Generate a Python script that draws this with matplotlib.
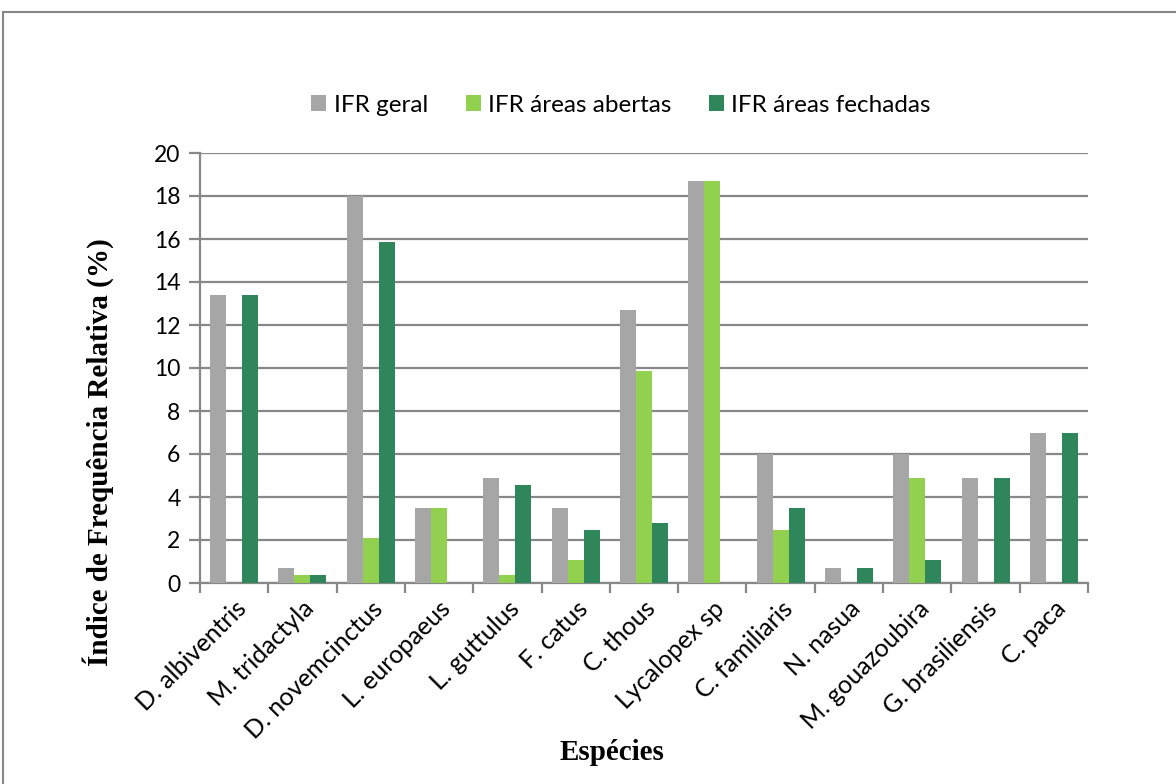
import matplotlib
matplotlib.use("Agg")
import matplotlib.pyplot as plt
from matplotlib.patches import Rectangle
import numpy as np

species = ["D. albiventris", "M. tridactyla", "D. novemcinctus", "L. europaeus",
           "L. guttulus", "F. catus", "C. thous", "Lycalopex sp", "C. familiaris",
           "N. nasua", "M. gouazoubira", "G. brasiliensis", "C. paca"]
ifr_geral = [13.4, 0.7, 18.0, 3.5, 4.9, 3.5, 12.7, 18.7, 6.0, 0.7, 6.0, 4.9, 7.0]
ifr_abertas = [0, 0.35, 2.1, 3.5, 0.35, 1.05, 9.85, 18.7, 2.45, 0, 4.9, 0, 0]
ifr_fechadas = [13.4, 0.35, 15.85, 0, 4.55, 2.45, 2.8, 0, 3.5, 0.7, 1.05, 4.9, 7.0]
series_names = ["IFR geral", "IFR áreas abertas", "IFR áreas fechadas"]
colors = ["#A6A6A6", "#92D050", "#2E865A"]
yticks = list(range(0, 21, 2))

W, H = 1176, 784
fig = plt.figure(figsize=(W / 100, H / 100), dpi=100)
ax = fig.add_axes([200 / W, 1 - 583 / H, 888 / W, 430 / H])

x = np.arange(len(species))
bw = 0.234
for i, (vals, c, name) in enumerate(zip([ifr_geral, ifr_abertas, ifr_fechadas], colors, series_names)):
    ax.bar(x + (i - 1) * bw, vals, width=bw, color=c, label=name, zorder=3)

ax.set_xlim(-0.5, len(species) - 0.5)
ax.set_ylim(0, 20)
ax.set_yticks(yticks)
ax.set_yticklabels([str(t) for t in yticks], fontsize=16.5, family="Lato")
ax.yaxis.grid(True, color="#888888", linewidth=1.6, zorder=0)
ax.tick_params(axis="y", length=8, width=1.6, color="#888888", pad=6)

ax.set_xticks(np.arange(-0.5, len(species), 1.0), minor=False)
ax.set_xticklabels([])
ax.set_xticks(x, minor=True)
ax.set_xticklabels(species, minor=True, rotation=45, ha="right", rotation_mode="anchor",
                   fontsize=18, family="Lato")
ax.tick_params(axis="x", which="major", length=7, width=1.6, color="#888888")
ax.tick_params(axis="x", which="minor", length=0, pad=10)

for s in ["top", "right"]:
    ax.spines[s].set_visible(False)
for s in ["left", "bottom"]:
    ax.spines[s].set_color("#888888")
    ax.spines[s].set_linewidth(1.6)

ax.set_ylabel("Índice de Frequência Relativa (%)", fontsize=21, fontweight="bold",
              family="Liberation Serif", va="center")
ax.yaxis.set_label_coords((98 - 200) / 888, (583 - 452) / 430)
fig.text(612 / W, 1 - 753 / H, "Espécies", fontsize=21, fontweight="bold",
         family="Liberation Serif", ha="center", va="center")

leg = fig.legend(loc="center", bbox_to_anchor=(621 / W, 1 - 105 / H), ncol=3, frameon=False,
                 prop={"family": "Lato", "size": 17.5}, handlelength=0.62, handleheight=0.62,
                 handletextpad=0.3, columnspacing=1.55)

fig.patches.append(Rectangle((3 / W, -0.01), 1.1, 1 - 12 / H + 0.01, transform=fig.transFigure,
                             fill=False, edgecolor="#888888", linewidth=1.5))

fig.savefig("out.png", dpi=100)
